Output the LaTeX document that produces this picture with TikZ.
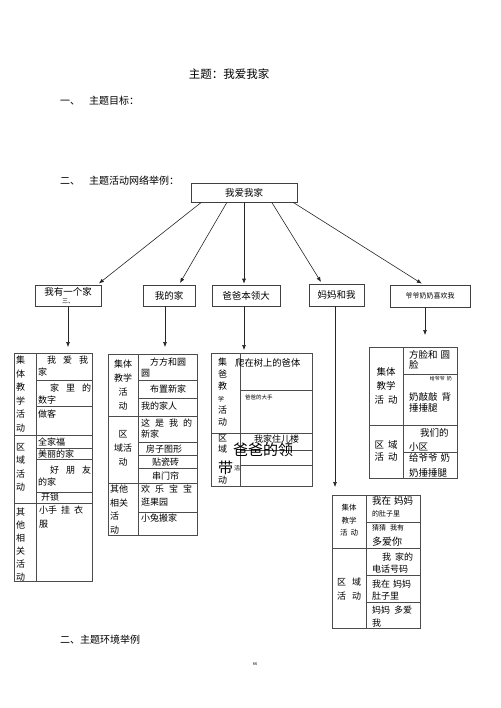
\documentclass[tikz,border=0pt]{standalone}
\usepackage{fontspec}
\setmainfont{Noto Sans CJK SC}
\usetikzlibrary{arrows,arrows.meta,positioning,calc}

\begin{document}
\begin{tikzpicture}[x=1pt, y=-1pt,
  box/.style={rectangle, draw=black!75, line width=0.6pt, inner sep=0pt, font=\fontsize{9.5}{11}\selectfont},
  tbl/.style={rectangle, draw=black!70, line width=0.6pt, anchor=north west, inner sep=0pt},
  cell/.style={anchor=north west, inner sep=0pt, align=left, font=\fontsize{9}{13.5}\selectfont},
  mid/.style={anchor=north, inner sep=0pt, align=center, font=\fontsize{9}{14}\selectfont},
  txt/.style={anchor=west, inner sep=0pt, font=\fontsize{9}{11}\selectfont},
  head/.style={anchor=west, inner sep=0pt, font=\fontsize{10}{12}\selectfont},
  arr/.style={-{Latex[length=5pt,width=4pt]}, line width=0.6pt, black!85},
  rule/.style={black!70, line width=0.5pt}
]
\useasboundingbox (0,0) rectangle (500,708);

% headings
\node[font=\fontsize{11.5}{13}\selectfont] (title) at (229,74) {主题：我爱我家};
\node[head] (aim) at (60,101) {一、\hspace{9pt}主题目标：};
\node[head] (net) at (60,181) {二、\hspace{9pt}主题活动网络举例：};
\node[head] (env) at (60,640) {二、主题环境举例};
\node[font=\fontsize{4}{4}\selectfont] (pg) at (255,664) {66};

% root and topics
\node[box, minimum width=106, minimum height=19] (root) at (244,192.5) {我爱我家};
\node[box, minimum width=66, minimum height=21, align=center] (home) at (68,295.5)
  {我有一个家\\[-3pt]{\fontsize{6}{6}\selectfont 三、}};
\node[box, minimum width=52, minimum height=21] (myhome) at (169,295.5) {我的家};
\node[box, minimum width=68, minimum height=21] (dad) at (246,295.5) {爸爸本领大};
\node[box, minimum width=55, minimum height=22] (mom) at (336.5,295) {妈妈和我};
\node[box, minimum width=80, minimum height=22, font=\fontsize{7}{8}\selectfont] (grand) at (430,296) {爷爷奶奶喜欢我};

\draw[arr, shorten >=2pt] ($(root.south west)!0.1!(root.south east)$) -- ($(home.north west)!0.94!(home.north east)$);
\draw[arr, shorten >=2pt] ($(root.south west)!0.34!(root.south east)$) -- ($(myhome.north west)!0.69!(myhome.north east)$);
\draw[arr, shorten >=1pt] (root.south) -- (root.south |- dad.north);
\draw[arr, shorten >=2pt] ($(root.south west)!0.76!(root.south east)$) -- ($(mom.north west)!0.24!(mom.north east)$);
\draw[arr, shorten >=2pt] ($(root.south west)!0.96!(root.south east)$) -- ($(grand.north west)!0.42!(grand.north east)$);

% tables
\node[tbl, minimum width=78, minimum height=228] (t1) at (14,353) {};
\node[tbl, minimum width=89, minimum height=181] (t2) at (108,354) {};
\node[tbl, minimum width=101, minimum height=133] (t3) at (211,353) {};
\node[tbl, minimum width=88, minimum height=133] (t4) at (332,495) {};
\node[tbl, minimum width=88, minimum height=131] (t5) at (369,347) {};

\draw[arr, shorten >=6pt] (home.south) -- (home.south |- t1.north);
\draw[arr, shorten >=7pt] ([xshift=-4pt]myhome.south) -- ([xshift=-4pt]myhome.south |- t2.north);
\draw[arr, shorten >=3pt] ([xshift=-2pt]dad.south) -- ([xshift=-2pt]dad.south |- t3.north);
\draw[arr, shorten >=8pt] ([xshift=-1.5pt]mom.south) -- ([xshift=-1.5pt]mom.south |- t4.north);
\draw[arr, shorten >=12pt] ([xshift=-5pt]grand.south) -- ([xshift=-5pt]grand.south |- t5.north);

% table 1
\draw[rule] (36,353) -- (36,581);
\foreach \y in {435,503} \draw[rule] (14,\y) -- (92,\y);
\foreach \y in {380,406,448,459,492} \draw[rule] (36,\y) -- (92,\y);
\node[cell] at (16,356) {集\\体\\教\\学\\活\\动};
\node[cell] at (16,443) {区\\域\\活\\动};
\node[cell, font=\fontsize{9}{13}\selectfont] at (16,508) {其\\他\\相\\关\\活\\动};
\node[cell, font=\fontsize{9}{12}\selectfont] at (38,356) {\hspace*{9pt}我\hspace{7pt}爱\hspace{7pt}我\\家};
\node[cell, font=\fontsize{9}{11.5}\selectfont] at (38,384) {\hspace*{12pt}家\hspace{7pt}里\hspace{7pt}的\\数字};
\node[txt] at (38,414) {做客};
\node[txt] at (38,442) {全家福};
\node[txt] at (38,454) {美丽的家};
\node[cell, font=\fontsize{9}{11.5}\selectfont] at (38,466) {\hspace*{12pt}好\hspace{7pt}朋\hspace{7pt}友\\的家};
\node[txt] at (41,497) {开锁};
\node[cell] at (39,506) {小手\hspace{4pt}挂\hspace{4pt}衣\\服};

% table 2
\draw[rule] (138,354) -- (138,535);
\foreach \y in {416,483} \draw[rule] (108,\y) -- (197,\y);
\foreach \y in {380,398,442,455,468,512} \draw[rule] (138,\y) -- (197,\y);
\node[mid] at (123,360) {集体\\教学\\活\\动};
\node[mid] at (123,430) {区\\域活\\动};
\node[cell] at (110,485) {其他\\相关\\活\\动};
\node[cell, font=\fontsize{9}{11}\selectfont] at (141,358) {\hspace*{9pt}方方和圆\\圆};
\node[txt] at (150,389) {布置新家};
\node[txt] at (141,406) {我的家人};
\node[cell, font=\fontsize{9}{11}\selectfont] at (141,419) {这\hspace{5pt}是\hspace{5pt}我\hspace{5pt}的\\新家};
\node[txt] at (146,449) {房子图形};
\node[txt] at (152,462) {贴瓷砖};
\node[txt] at (152,476) {串门帘};
\node[cell, font=\fontsize{9}{13}\selectfont] at (141,485) {欢\hspace{5pt}乐\hspace{5pt}宝\hspace{5pt}宝\\逛果园};
\node[txt] at (141,518) {小兔搬家};

% table 3
\draw[rule] (240,353) -- (240,486);
\draw[rule] (211,433) -- (312,433);
\foreach \y in {390,450,465} \draw[rule] (240,\y) -- (312,\y);
\node[cell, font=\fontsize{9}{12}\selectfont] at (218,358) {集\\爸\\教\\{\fontsize{6}{6}\selectfont 学}\\活\\动};
\node[cell, font=\fontsize{9}{11}\selectfont] at (218,434) {区\\域};
\node[txt, font=\fontsize{15}{15}\selectfont] at (218,468) {带};
\node[txt, font=\fontsize{6}{6}\selectfont] at (234,468) {活};
\node[txt] at (218,480) {动};
\node[txt, font=\fontsize{9.3}{11}\selectfont] at (235,363) {爬在树上的爸体};
\node[txt, font=\fontsize{5.5}{6}\selectfont] at (245,397) {爸爸的大手};
\node[txt] at (254,439) {我家住儿楼};
\node[txt, font=\fontsize{15}{15}\selectfont] at (233,450) {爸爸的领};

% table 4
\draw[rule] (366,495) -- (366,628);
\draw[rule] (332,548) -- (420,548);
\foreach \y in {522,575,602} \draw[rule] (366,\y) -- (420,\y);
\node[mid, font=\fontsize{7.5}{12.5}\selectfont] at (349,504) {集体\\教学\\活\hspace{3pt}动};
\node[mid] at (349,578) {区\hspace{6pt}域\\活\hspace{6pt}动};
\node[txt, font=\fontsize{9.5}{11}\selectfont] at (372,501) {我在\hspace{3pt}妈妈};
\node[txt, font=\fontsize{7}{8}\selectfont] at (372,514) {的肚子里};
\node[txt, font=\fontsize{7}{8}\selectfont] at (372,528) {猜猜\hspace{4pt}我有};
\node[txt, font=\fontsize{10}{11}\selectfont] at (372,542) {多爱你};
\node[txt] at (382,557) {我\hspace{4pt}家的};
\node[txt] at (372,569) {电话号码};
\node[txt] at (372,584) {我在\hspace{3pt}妈妈};
\node[txt] at (372,596) {肚子里};
\node[txt] at (372,610) {妈妈\hspace{4pt}多爱};
\node[txt] at (372,623) {我};

% table 5
\draw[rule] (403,347) -- (403,478);
\draw[rule] (369,425) -- (457,425);
\foreach \y in {374,452} \draw[rule] (403,\y) -- (457,\y);
\node[mid, font=\fontsize{9.5}{14}\selectfont] at (386,367) {集体\\教学\\活\hspace{4pt}动};
\node[mid, font=\fontsize{9.5}{12.5}\selectfont] at (386,440) {区\hspace{4pt}域\\活\hspace{4pt}动};
\node[txt, font=\fontsize{9.5}{11}\selectfont] at (409,355) {方脸和\hspace{3pt}圆};
\node[txt, font=\fontsize{9.5}{11}\selectfont] at (409,365) {脸};
\node[anchor=east, inner sep=0pt, font=\fontsize{5}{6}\selectfont] at (452,379) {给爷爷\hspace{2pt}奶};
\node[txt, font=\fontsize{9.5}{11}\selectfont] at (409,397) {奶敲敲\hspace{4pt}背};
\node[txt, font=\fontsize{9.5}{11}\selectfont] at (409,408) {捶捶腿};
\node[txt, font=\fontsize{9.5}{11}\selectfont] at (420,433) {我们的};
\node[txt, font=\fontsize{9.5}{11}\selectfont] at (409,447) {小区};
\node[txt, font=\fontsize{9.5}{11}\selectfont] at (409,458) {给爷爷\hspace{3pt}奶};
\node[txt, font=\fontsize{9.5}{11}\selectfont] at (409,473) {奶捶捶腿};

\end{tikzpicture}
\end{document}
